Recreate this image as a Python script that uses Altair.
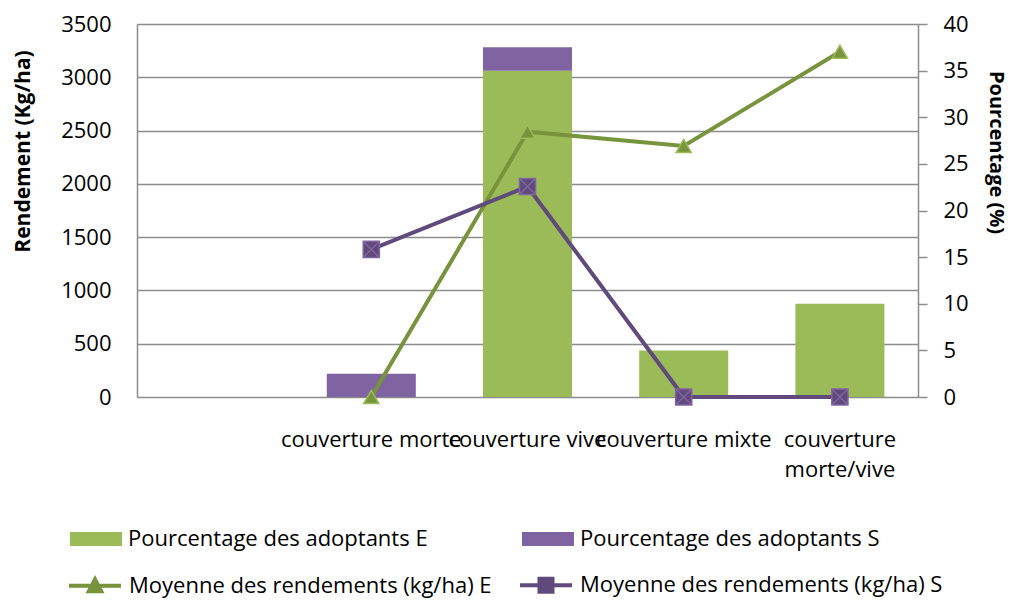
import altair as alt
import pandas as pd

# ---------------- data ----------------
categories = [" ", "couverture morte", "couverture vive", "couverture mixte", "couverture morte/vive"]
bar_cats = ["couverture morte", "couverture vive", "couverture mixte", "couverture morte/vive"]

pct_E = [0, 35, 5, 10]          # Pourcentage des adoptants E (%)
pct_S = [2.5, 2.5, 0, 0]        # Pourcentage des adoptants S (%)
rend_E = [0, 2490, 2355, 3240]  # Moyenne des rendements (kg/ha) E
rend_S = [1385, 1975, 0, 0]     # Moyenne des rendements (kg/ha) S

bar_series = ["Pourcentage des adoptants E", "Pourcentage des adoptants S"]
line_series = ["Moyenne des rendements (kg/ha) E", "Moyenne des rendements (kg/ha) S"]

left_ticks = [0, 500, 1000, 1500, 2000, 2500, 3000, 3500]
right_ticks = [0, 5, 10, 15, 20, 25, 30, 35, 40]

# ---------------- tables ----------------
bar_rows = []
for i, c in enumerate(bar_cats):
    bar_rows.append({"cat": c, "series": bar_series[0], "pct": pct_E[i], "ord": 0})
    bar_rows.append({"cat": c, "series": bar_series[1], "pct": pct_S[i], "ord": 1})
bar_df = pd.DataFrame(bar_rows)

line_rows = []
for i, c in enumerate(bar_cats):
    line_rows.append({"cat": c, "series": line_series[0], "val": rend_E[i]})
    line_rows.append({"cat": c, "series": line_series[1], "val": rend_S[i]})
line_df = pd.DataFrame(line_rows)

# ---------------- styles ----------------
FONT = "Open Sans"
GREEN_BAR = "#9BBB59"
PURPLE_BAR = "#8064A2"
GREEN_LINE = "#77933C"
PURPLE_LINE = "#604A7B"
GRID = "#8C8C8C"

x_enc = alt.X(
    "cat:N",
    title=None,
    scale=alt.Scale(domain=categories, paddingInner=0.43, paddingOuter=0.215),
    axis=alt.Axis(
        domain=False, ticks=False, labelAngle=0, labelPadding=32,
        labelFontSize=22, labelFont=FONT, labelColor="black",
        labelOverlap=False, labelLimit=0, labelLineHeight=30,
        labelExpr="datum.label == 'couverture morte/vive' ? ['couverture', 'morte/vive'] : datum.label",
    ),
)

left_axis = alt.Axis(
    orient="left", values=left_ticks, format="d", grid=True,
    gridColor=GRID, gridWidth=1.5, domain=True, domainColor=GRID, domainWidth=1.5,
    ticks=False, labelPadding=26, labelFontSize=22, labelFont=FONT, labelColor="black",
    title="Rendement (Kg/ha)", titleFont=FONT, titleFontSize=21, titleFontWeight="bold",
    titleColor="black", titleX=-114, titleY=127, titleAngle=270,
    titleAlign="center", titleBaseline="middle",
)

right_axis = alt.Axis(
    orient="right", values=right_ticks, format="d", grid=False,
    domain=True, domainColor=GRID, domainWidth=1.5,
    ticks=True, tickSize=9, tickColor=GRID, tickWidth=1.5,
    labelPadding=16, labelFontSize=22, labelFont=FONT, labelColor="black",
    title="Pourcentage (%)", titleFont=FONT, titleFontSize=20, titleFontWeight="bold",
    titleColor="black", titleX=77, titleY=128, titleAngle=90,
    titleAlign="center", titleBaseline="middle",
)

y_left = alt.Y("val:Q", title="Rendement (Kg/ha)",
               scale=alt.Scale(domain=[0, 3500], nice=False, zero=True), axis=left_axis)

# ---------------- bars (right axis) ----------------
bars = alt.Chart(bar_df).mark_bar().encode(
    x=x_enc,
    y=alt.Y("pct:Q", stack="zero", title="Pourcentage (%)",
            scale=alt.Scale(domain=[0, 40], nice=False, zero=True), axis=right_axis),
    color=alt.Color(
        "series:N",
        scale=alt.Scale(domain=bar_series, range=[GREEN_BAR, PURPLE_BAR]),
        legend=alt.Legend(
            orient="none", legendX=-67, legendY=489, direction="horizontal", title=None,
            symbolType="M-1,-0.27H1V0.27H-1Z", symbolSize=2704, symbolStrokeWidth=0,
            labelFontSize=22, labelFont=FONT, labelColor="black", labelLimit=800,
            labelOffset=6, columnPadding=94, padding=0,
        ),
    ),
    order=alt.Order("ord:Q"),
)

# ---------------- lines (left axis) ----------------
line_E = alt.Chart(line_df).transform_filter(
    alt.datum.series == line_series[0]
).mark_line(color=GREEN_LINE, strokeWidth=4).encode(x=x_enc, y=y_left)

line_S = alt.Chart(line_df).transform_filter(
    alt.datum.series == line_series[1]
).mark_line(color=PURPLE_LINE, strokeWidth=4).encode(x=x_enc, y=y_left)

mark_E = alt.Chart(line_df).transform_filter(
    alt.datum.series == line_series[0]
).mark_point(shape="triangle-up", filled=True, size=230, fill=GREEN_LINE,
             stroke=GREEN_BAR, strokeWidth=1.5, opacity=1).encode(x=x_enc, y=y_left)

SQX = "M-1,-1H1V1H-1ZM-1,-1L1,1M1,-1L-1,1"
mark_S = alt.Chart(line_df).transform_filter(
    alt.datum.series == line_series[1]
).mark_point(shape=SQX, filled=True, size=260, fill=PURPLE_LINE,
             stroke=PURPLE_BAR, strokeWidth=1.5, opacity=1).encode(x=x_enc, y=y_left)

# legend-only layer (no rows survive the filter; entries come from the explicit domain)
LEG_E = "M-1,0H1M-0.24,0.22L0,-0.24L0.24,0.22Z"
LEG_S = "M-1,0H1M-0.25,-0.25H0.25V0.25H-0.25ZM-0.25,-0.25L0.25,0.25M0.25,-0.25L-0.25,0.25"
line_legend = alt.Legend(
    orient="none", legendX=-70, legendY=533, direction="horizontal", title=None,
    symbolSize=2704, symbolStrokeWidth=4, symbolOpacity=1,
    labelFontSize=22, labelFont=FONT, labelColor="black", labelLimit=800,
    labelOffset=6, columnPadding=20, padding=0,
)
legend_layer = alt.Chart(line_df).transform_filter("false").mark_point(
    filled=True, strokeWidth=4
).encode(
    x=x_enc, y=y_left,
    fill=alt.Fill("series:N", scale=alt.Scale(domain=line_series, range=[GREEN_LINE, PURPLE_LINE]),
                  legend=line_legend),
    stroke=alt.Stroke("series:N", scale=alt.Scale(domain=line_series, range=[GREEN_LINE, PURPLE_LINE]),
                      legend=line_legend),
    shape=alt.Shape("series:N", scale=alt.Scale(domain=line_series, range=[LEG_E, LEG_S]),
                    legend=line_legend),
)

lines = alt.layer(line_E, line_S, mark_E, mark_S, legend_layer)

chart = alt.layer(bars, lines).resolve_scale(
    y="independent"
).properties(
    width=781, height=373,
    autosize=alt.AutoSizeParams(type="none"),
    padding={"left": 129, "top": 16, "right": 92, "bottom": 204},
).configure_view(stroke=None).configure(background="white")

chart.save("out.html", embed_options={"renderer": "svg", "actions": False})
